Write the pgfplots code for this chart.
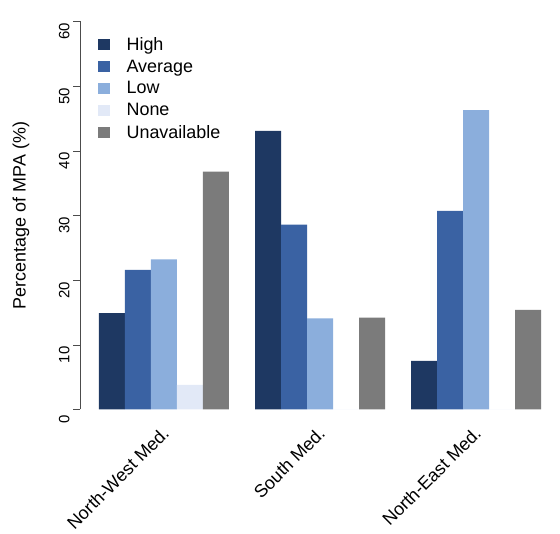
\documentclass[border=0pt]{standalone}
\usepackage{pgfplots}
\pgfplotsset{compat=1.18}
\usepackage{fontspec}
\setmainfont{Liberation Sans}
\definecolor{cHigh}{HTML}{1E3862}
\definecolor{cAvg}{HTML}{3A62A3}
\definecolor{cLow}{HTML}{8BAEDC}
\definecolor{cNone}{HTML}{E2E9F7}
\definecolor{cUna}{HTML}{7B7B7B}
\begin{document}
\begin{tikzpicture}[x=1bp,y=1bp]
\useasboundingbox (0,0) rectangle (560,534);
\begin{axis}[
  at={(80bp,124.5bp)}, anchor=south west,
  scale only axis, width=480bp, height=388bp,
  xmin=-0.73, xmax=17.73, ymin=0, ymax=60,
  ybar, bar width=1, bar shift=0pt,
  axis y line*=left, axis x line*=bottom,
  x axis line style={draw=none},
  xtick={2.5,8.5,14.5},
  xticklabels={North-West Med.,South Med.,North-East Med.},
  xtick style={draw=none},
  xticklabel style={xshift=-3bp, yshift=-4bp, rotate=45, anchor=north east, font=\fontsize{18}{21.6}\selectfont},
  ytick={0,10,...,60},
  ytick align=outside, major tick length=7bp,
  y axis line style={line width=0.6bp, draw=black!70},
  ytick style={line width=0.6bp, draw=black!70},
  /pgf/number format/assume math mode=true,
  yticklabel style={rotate=90, anchor=south, font=\fontsize{15}{18}\selectfont, xshift=-10bp},
  ylabel={Percentage of MPA (\%)},
  ylabel style={at={(axis description cs:-0.123,0.5)}, anchor=center, font=\fontsize{18}{21.6}\selectfont},
  legend style={at={(axis description cs:0.03,0.97)}, anchor=north west, draw=none, fill=none,
    font=\fontsize{18}{21.6}\selectfont, row sep=4bp,
    /tikz/every odd column/.append style={column sep=15bp}},
  legend cell align=left,
  legend image code/.code={\fill[#1] (0bp,-5.5bp) rectangle (12bp,5.5bp);},
]
\addplot[fill=cHigh, draw=none] coordinates {(0.5,14.9) (6.5,43.1) (12.5,7.5)};
\addplot[fill=cAvg, draw=none] coordinates {(1.5,21.6) (7.5,28.6) (13.5,30.7)};
\addplot[fill=cLow, draw=none] coordinates {(2.5,23.2) (8.5,14.1) (14.5,46.3)};
\addplot[fill=cNone, draw=none] coordinates {(3.5,3.8) (9.5,0) (15.5,0)};
\addplot[fill=cUna, draw=none] coordinates {(4.5,36.8) (10.5,14.2) (16.5,15.4)};
\legend{High,Average,Low,None,Unavailable}
\end{axis}
\end{tikzpicture}
\end{document}
